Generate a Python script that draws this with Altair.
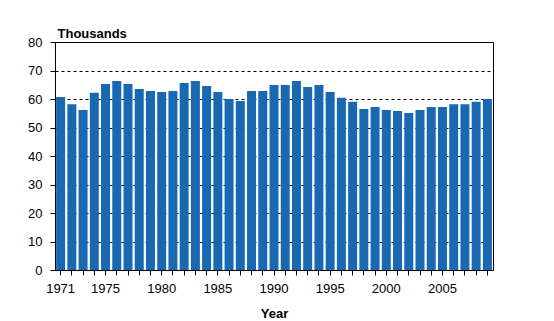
import altair as alt
import pandas as pd

years = list(range(1971, 2010))
values = [60.7, 58.2, 56.1, 62.2, 65.3, 66.3, 65.3, 63.5, 62.8, 62.5,
          62.8, 65.6, 66.3, 64.6, 62.5, 60.0, 59.3, 62.8, 62.8, 64.9,
          64.9, 66.3, 64.2, 64.9, 62.5, 60.4, 59.0, 56.5, 57.2, 56.1,
          55.8, 55.1, 56.1, 57.2, 57.2, 58.2, 58.2, 59.0, 60.0]

df = pd.DataFrame({"Year": years, "Value": values})

FONT = "Liberation Sans"

chart = alt.Chart(df).mark_bar(color="#1868B2").encode(
    x=alt.X("Year:O",
            scale=alt.Scale(paddingInner=0.2, paddingOuter=0.1),
            axis=alt.Axis(title="Year", labelAngle=0, tickSize=5, labelPadding=7,
                          labelExpr="datum.value == 1971 || datum.value % 5 == 0 ? datum.label : ''",
                          labelFont=FONT, labelFontSize=13, labelColor="black",
                          titleFont=FONT, titleFontSize=13, titleFontWeight="bold",
                          titleColor="black", titleY=47, titleBaseline="alphabetic",
                          domainColor="black", tickColor="black", grid=False)),
    y=alt.Y("Value:Q",
            scale=alt.Scale(domain=[0, 80], nice=False),
            axis=alt.Axis(title="Thousands", values=list(range(0, 90, 10)), tickSize=5,
                          labelPadding=8, labelFont=FONT, labelFontSize=13, labelColor="black",
                          titleFont=FONT, titleFontSize=13, titleFontWeight="bold",
                          titleColor="black", titleAngle=0, titleAlign="left",
                          titleX=2, titleY=-5, titleBaseline="alphabetic",
                          domainColor="black", tickColor="black",
                          grid=True, gridColor="black", gridDash=[3, 3],
                          gridOpacity={"condition": {"test": "datum.value >= 80 || datum.value <= 0", "value": 0}, "value": 1},
                          gridWidth=1)),
).properties(
    width=438, height=228,
    autosize="none",
    background="white",
    padding={"left": 55, "top": 42, "right": 61, "bottom": 51},
).configure_view(stroke="black", strokeWidth=1, strokeOpacity=1)

chart.save("out.html", embed_options={"renderer": "svg", "actions": False})
